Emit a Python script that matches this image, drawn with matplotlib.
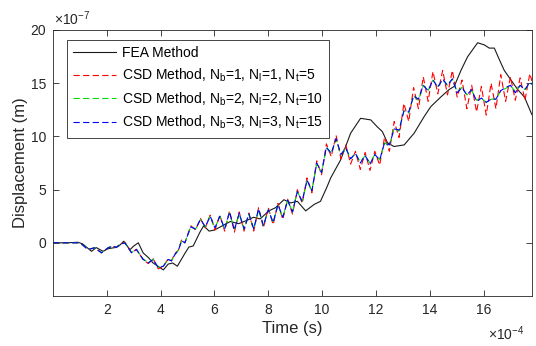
import numpy as np
import matplotlib
matplotlib.use("Agg")
import matplotlib.pyplot as plt

plt.rcParams['font.family'] = ['Liberation Sans', 'DejaVu Sans']
plt.rcParams['mathtext.fontset'] = 'custom'
plt.rcParams['mathtext.rm'] = 'Liberation Sans'
plt.rcParams['mathtext.it'] = 'Liberation Sans:italic'
plt.rcParams['lines.scale_dashes'] = False

# time in units of 1e-4 s, displacement in units of 1e-7 m
time_fea = [0, 0.5, 0.93, 1.1, 1.43, 1.61, 1.86, 2.05, 2.3, 2.45, 2.63, 2.86, 3.0, 3.17,
            3.35, 3.55, 3.72, 3.9, 4.1, 4.28, 4.45, 4.62, 4.9, 5.05, 5.21, 5.46, 5.6, 5.8,
            6.0, 6.22, 6.59, 6.9, 7.2, 7.45, 7.7, 8.02, 8.27, 8.58, 8.83, 9.08, 9.39, 9.7,
            9.94, 10.19, 10.32, 10.69, 11.06, 11.43, 11.81, 12.05, 12.24, 12.43, 12.67,
            13.05, 13.42, 13.79, 14.04, 14.41, 14.72, 14.91, 15.16, 15.41, 15.78, 16.03,
            16.21, 16.4, 16.59, 16.77, 17.02, 17.27, 17.52, 17.77, 17.85]
disp_fea = [0, 0.0, 0.05, -0.1, -0.8, -0.45, -0.8, -0.55, -0.45, -0.3, 0.15, -0.65, -0.3, 0.0,
            -0.95, -1.4, -1.9, -2.2, -2.55, -2.0, -1.9, -2.2, -1.0, -0.4, -0.3, 1.0, 1.6, 1.1,
            1.2, 1.5, 2.0, 1.8, 2.1, 2.4, 2.25, 3.0, 3.3, 4.05, 3.75, 3.9, 3.0, 3.6,
            3.9, 5.3, 6.1, 7.8, 10.3, 11.7, 11.55, 10.9, 10.45, 9.4, 9.05,
            9.2, 10.3, 11.85, 12.8, 13.7, 14.4, 14.7, 16.2, 17.5, 18.8, 18.6,
            18.3, 18.3, 17.2, 16.2, 15.3, 14.4, 13.7, 12.2, 11.8]

time_csd = [0, 0.4, 0.93, 1.1, 1.3, 1.55, 1.8, 2.05, 2.23, 2.35, 2.48, 2.67, 2.92, 3.1,
            3.35, 3.54, 3.72, 3.91, 4.1, 4.28, 4.4, 4.53, 4.66, 4.78, 4.9,
            5.12, 5.30, 5.48, 5.66, 5.84, 6.02, 6.20, 6.38, 6.56, 6.74, 6.92, 7.10, 7.28,
            7.46, 7.64, 7.82, 8.00, 8.18, 8.36, 8.54, 8.72, 8.90, 9.08, 9.26, 9.44, 9.62,
            9.80, 9.98, 10.16, 10.34, 10.52, 10.70, 10.88, 11.06, 11.24, 11.42, 11.60,
            11.78, 11.96, 12.14, 12.32, 12.50, 12.68, 12.86, 13.04, 13.22, 13.40, 13.58,
            13.76, 13.94, 14.12, 14.30, 14.48, 14.66, 14.84, 15.02, 15.20, 15.38, 15.56,
            15.74, 15.92, 16.10, 16.28, 16.46, 16.64, 16.82, 17.00, 17.18, 17.36, 17.54,
            17.72, 17.80]

csd_1 = [0, 0, 0, -0.2, -0.65, -0.45, -0.95, -0.45, -0.3, -0.45, -0.15, 0.05, -0.95, -0.6,
         -1.6, -1.95, -1.5, -2.45, -2.2, -1.5, -1.7, -1.0, -0.7, 0.3, 0.0,
         1.6, 1.2, 2.3, 1.4, 2.6, 1.2, 2.6, 1.1, 3.0, 1.0, 2.9, 1.1, 2.8,
         1.1, 3.3, 1.4, 3.3, 1.7, 3.7, 2.2, 4.1, 2.7, 5.0, 3.7, 6.1, 4.7,
         7.7, 6.4, 9.3, 8.1, 10.1, 7.9, 9.2, 7.4, 8.6, 6.9, 8.5,
         6.8, 8.6, 7.3, 9.9, 8.6, 11.4, 9.9, 13.1, 11.4, 14.6, 12.6,
         15.6, 13.3, 16.1, 14.0, 16.2, 13.9, 16.2, 13.7, 15.3, 12.6, 14.8,
         12.3, 14.7, 12.0, 15.0, 12.6, 15.8, 13.3, 15.6, 13.4, 15.5, 13.4,
         15.9, 15.2]

csd_2 = [0, 0, 0, -0.2, -0.6, -0.47, -0.92, -0.47, -0.3, -0.43, -0.16, 0.0, -0.9, -0.63,
         -1.52, -1.88, -1.56, -2.3, -2.2, -1.56, -1.68, -1.1, -0.7, 0.2, 0.0,
         1.5, 1.3, 2.2, 1.5, 2.5, 1.4, 2.5, 1.3, 2.8, 1.3, 2.7, 1.3, 2.7,
         1.3, 3.1, 1.6, 3.1, 1.9, 3.5, 2.4, 4.0, 2.9, 4.8, 3.9, 5.8, 4.9,
         7.4, 6.6, 8.9, 8.4, 9.7, 8.3, 8.9, 7.9, 8.4, 7.6, 8.2,
         7.5, 8.3, 7.8, 9.4, 9.1, 10.8, 10.5, 12.4, 12.2, 13.8, 13.4,
         14.8, 14.3, 15.3, 14.7, 15.3, 14.8, 15.4, 14.2, 14.6, 13.9, 14.3,
         13.4, 13.6, 13.2, 13.5, 13.5, 14.3, 14.5, 14.8, 14.2, 14.8, 14.4,
         15.0, 14.9]

csd_3 = [0, 0, 0, -0.2, -0.63, -0.47, -0.94, -0.47, -0.3, -0.45, -0.16, 0.0, -0.94, -0.63,
         -1.56, -1.9, -1.56, -2.34, -2.2, -1.56, -1.7, -1.1, -0.7, 0.2, 0.0,
         1.5, 1.3, 2.2, 1.5, 2.5, 1.4, 2.5, 1.3, 2.9, 1.2, 2.8, 1.3, 2.7,
         1.3, 3.2, 1.6, 3.1, 1.9, 3.6, 2.4, 4.0, 2.9, 4.8, 3.9, 5.9, 4.9,
         7.5, 6.6, 9.0, 8.4, 9.8, 8.3, 8.9, 7.9, 8.4, 7.5, 8.2,
         7.4, 8.3, 7.8, 9.4, 9.2, 10.7, 10.6, 12.4, 12.3, 13.8, 13.5,
         14.8, 14.3, 15.3, 14.6, 15.4, 14.8, 15.4, 14.1, 14.6, 13.9, 14.4,
         13.3, 13.6, 13.2, 13.5, 13.5, 14.3, 14.6, 14.8, 14.1, 14.8, 14.4,
         15.1, 14.9]

labels = ['FEA Method',
          r'CSD Method, N$_\mathrm{b}$=1, N$_\mathrm{l}$=1, N$_\mathrm{t}$=5',
          r'CSD Method, N$_\mathrm{b}$=2, N$_\mathrm{l}$=2, N$_\mathrm{t}$=10',
          r'CSD Method, N$_\mathrm{b}$=3, N$_\mathrm{l}$=3, N$_\mathrm{t}$=15']

fig = plt.figure(figsize=(5.36, 3.46), dpi=100)
ax = fig.add_axes([0.0989, 0.1445, 0.8936, 0.7688])

dash = (4.5, 2.4)
ax.plot(time_fea, disp_fea, color='#1a1a1a', lw=0.8, label=labels[0])
ax.plot(time_csd, csd_1, color='#ff0000', lw=0.8, dashes=dash, label=labels[1])
ax.plot(time_csd, csd_2, color='#00dd00', lw=0.8, dashes=dash, label=labels[2])
ax.plot(time_csd, csd_3, color='#0000ff', lw=0.8, dashes=dash, label=labels[3])

ax.set_xlim(0, 17.8)
ax.set_ylim(-5, 20)
ax.set_xticks([2, 4, 6, 8, 10, 12, 14, 16])
ax.set_yticks([0, 5, 10, 15, 20])
ax.tick_params(direction='in', top=True, right=True, length=4, width=0.6,
               labelsize=10, colors='#262626', pad=5)
for s in ax.spines.values():
    s.set_linewidth(0.6)
    s.set_color('#262626')

ax.set_xlabel('Time (s)', fontsize=12, color='#262626', labelpad=3)
ax.set_ylabel('Displacement (m)', fontsize=12, color='#262626', labelpad=2)

ax.text(0.003, 1.008, r'$\times$10$^{-7}$', transform=ax.transAxes, fontsize=10,
        ha='left', va='bottom', color='#262626')
ax.text(0.985, -0.108, r'$\times$10$^{-4}$', transform=ax.transAxes, fontsize=10,
        ha='right', va='top', color='#262626')

leg = ax.legend(loc='upper left', bbox_to_anchor=(0.029, 0.962), borderaxespad=0,
                fontsize=10, handlelength=3.1, handletextpad=0.4, labelspacing=0.45,
                fancybox=False, framealpha=1, edgecolor='#262626', borderpad=0.45)
leg.get_frame().set_linewidth(0.6)

fig.savefig('out.png', dpi=100)
